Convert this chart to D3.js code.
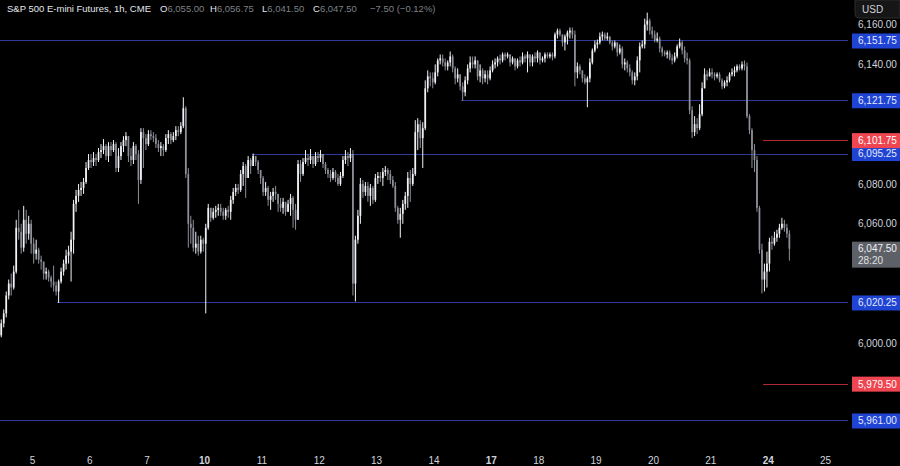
<!DOCTYPE html>
<html><head><meta charset="utf-8">
<script src="https://cdn.jsdelivr.net/npm/d3@7/dist/d3.min.js"></script>
<style>html,body{margin:0;padding:0;background:#000;}svg{display:block;}</style>
</head><body>
<svg id="c" width="900" height="466"></svg>
<script>
// ---- DATA (hourly candles, ES1! 1h, CME) ----
const opens=[
6004,6010,6015,6024,6030,6028,6036,6058,6056,6048,
6062,6055,6060,6050,6045,6047,6042,6041,6035,6036,
6033,6031,6029,6026,6031,6036,6040,6044,6046,6052,
6070,6074,6077,6078,6081,6088,6092,6091,6093,6092,
6096,6097,6099,6094,6099,6097,6100,6088,6094,6099,
6102,6104,6094,6092,6099,6095,6082,6106,6103,6100,
6105,6104,6103,6100,6098,6099,6097,6103,6105,6102,
6104,6107,6106,6109,6118,6085,6060,6058,6048,6050,
6046,6052,6050,6058,6068,6063,6066,6067,6068,6066,
6064,6067,6066,6072,6076,6078,6077,6085,6089,6083,
6092,6089,6094,6091,6087,6083,6076,6078,6072,6074,
6076,6075,6070,6068,6071,6066,6070,6073,6067,6062,
6090,6085,6091,6093,6092,6094,6090,6094,6093,6095,
6090,6087,6085,6083,6086,6083,6080,6084,6092,6094,
6093,6095,6030,6052,6064,6080,6076,6079,6074,6078,
6072,6083,6084,6083,6086,6087,6085,6082,6079,6068,
6062,6065,6070,6074,6083,6080,6085,6106,6110,6103,
6108,6128,6134,6133,6131,6136,6142,6143,6141,6139,
6141,6144,6138,6133,6135,6129,6126,6132,6138,6141,
6140,6142,6134,6137,6133,6135,6133,6137,6140,6141,
6143,6142,6145,6144,6145,6141,6143,6139,6142,6141,
6144,6143,6145,6141,6144,6143,6146,6142,6143,6145,
6144,6145,6144,6155,6157,6155,6151,6154,6156,6157,
6155,6136,6139,6137,6133,6131,6133,6141,6147,6150,
6151,6154,6155,6153,6154,6151,6149,6151,6146,6148,
6140,6141,6138,6136,6132,6134,6142,6149,6150,6160,
6162,6157,6155,6152,6153,6148,6146,6145,6146,6143,
6142,6144,6149,6151,6147,6143,6142,6117,6106,6110,
6108,6115,6128,6135,6134,6136,6135,6134,6135,6132,
6129,6131,6132,6135,6136,6137,6139,6138,6140,6139,
6114,6107,6097,6092,6068,6047,6032,6036,6040,6051,
6050,6053,6055,6058,6060,6058,6055];
const highs=[
6012,6017,6026,6032,6035,6039,6062,6067,6060,6069,
6067,6064,6062,6053,6052,6048,6044,6041,6038,6037,
6034,6039,6031,6032,6038,6042,6047,6049,6056,6072,
6077,6080,6081,6083,6091,6095,6095,6096,6095,6098,
6100,6102.5,6100,6101,6101,6102,6101,6098,6101,6104,
6106,6104,6098,6101,6100,6097,6108,6108,6105,6107,
6107,6106,6105,6102,6101,6100,6105,6107,6106,6106,
6109,6109,6111,6123.5,6119,6088,6064,6062,6056,6054,
6054,6053,6060,6070,6068,6068,6069,6070,6070,6068,
6068,6069,6074,6078,6080,6080,6087,6091,6090,6094,
6093,6095.25,6094,6092,6087,6084,6081,6079,6076,6078,
6079,6075,6073,6073,6071,6072,6075,6074,6070,6092,
6092,6093,6097,6095,6097.5,6094,6096,6096,6097,6095,
6091,6088,6087,6088,6087,6085,6086,6094,6097,6096,
6098,6097,6054,6067,6083,6082,6081,6081,6080,6079,
6085,6086,6086,6088,6089,6088,6087,6084,6081,6069,
6068,6072,6076,6086,6087,6088,6112,6113,6112,6111,
6132,6137,6136,6136,6140,6143,6145,6145,6143,6142,
6146.5,6145,6139,6138,6135,6131,6134,6140,6144,6144,
6144,6142,6140,6138,6137,6137,6139,6142,6143,6144,
6145,6146,6146,6146,6145,6144,6143,6143,6144,6146,
6145,6146.5,6145,6145,6146,6147,6146,6144,6146,6146,
6146,6146,6156,6158,6158,6155,6155,6157,6158.5,6158.5,
6157,6141,6140,6137,6135,6134,6143,6148,6152,6152.5,
6156,6156.5,6156,6156,6154,6152,6152,6151,6150,6149,
6143,6142,6140,6137,6136,6144,6151,6152,6163,6166,
6163,6159,6157,6156,6154,6149,6147,6147,6147,6145,
6146,6150,6153,6152,6149,6146,6143,6119,6114,6113,
6120,6131,6138,6137,6138,6138,6136,6136,6136,6133,
6132,6134,6136,6138,6139,6140,6140,6141.5,6142,6141,
6115,6108,6100,6094,6069,6050,6040,6046,6053,6054,
6056,6057,6060,6063,6062,6060,6056.75];
const lows=[
6003,6008,6013,6022,6024,6027,6035,6052,6045,6046,
6050,6052,6045,6040,6042,6040,6037,6032,6032,6031,
6028,6026,6024,6020.25,6030,6034,6037,6040,6031,6045,
6066,6071,6074,6075,6080,6087,6088,6089,6089,6091,
6093,6095,6092,6091,6094,6096,6086,6086,6092,6096,
6099,6091,6089,6090,6092,6070,6080,6088,6097,6099,
6102,6101,6098,6096,6094,6094,6096,6100,6100,6101,
6102,6104,6105,6108,6083,6048,6050,6046,6045,6044,
6045,6046,6015,6057,6061,6062,6063,6064,6064,6062,
6062,6063,6062,6070,6074,6075,6076,6079,6073,6083,
6085,6089,6089,6085,6080,6074,6074,6069,6067,6071,
6072,6066,6066,6065,6064,6066,6064,6058,6057,6062,
6081,6084,6090,6089,6090,6088,6089,6091,6091,6088,
6085,6083,6081,6082,6081,6079,6079,6083,6090,6089,
6091,6024,6021,6050,6060,6073,6074,6071,6069,6070,
6071,6080,6081,6079,6084,6082,6080,6078,6066,6060,
6053,6060,6067,6068,6071,6079,6084,6097,6098,6088,
6107,6126,6129,6128,6130,6134,6140,6139,6137,6137,
6139,6136,6130,6131,6127,6121.75,6124,6130,6136,6138,
6138,6132,6131,6130,6131,6130,6132,6136,6138,6139,
6140,6141,6142,6143,6139,6140,6137,6138,6139,6140,
6141,6136,6139,6139,6141,6141,6140,6141,6141,6143,
6143,6142,6143,6153,6154,6149,6147,6150,6153,6153,
6129,6133,6135,6131,6130,6118.5,6131,6140,6146,6148,
6150,6152,6152,6152,6150,6147,6148,6144,6145,6138,
6137,6136,6134,6130,6129.5,6132,6136,6148,6148,6157,
6155,6153,6151,6151,6146,6144,6144,6143,6142,6140,
6141,6143,6148,6145,6141,6140,6115,6103,6104,6105,
6107,6114,6128,6132,6134,6133,6132,6133,6131,6127.5,
6128,6129,6131,6134,6134,6136,6137,6137,6137,6113,
6105,6088,6086,6066,6045,6025,6026,6028,6036,6047,
6049,6051,6053,6057,6056,6053,6041.5];
const closes=[
6010,6015,6024,6030,6028,6036,6058,6056,6048,6062,
6055,6060,6050,6045,6047,6042,6041,6035,6036,6033,
6031,6029,6026,6031,6036,6040,6044,6046,6052,6070,
6074,6077,6078,6081,6088,6092,6091,6093,6092,6096,
6097,6099,6094,6099,6097,6100,6088,6094,6099,6102,
6104,6094,6092,6099,6095,6082,6106,6103,6100,6105,
6104,6103,6100,6098,6099,6097,6103,6105,6102,6104,
6107,6106,6109,6118,6085,6060,6058,6048,6050,6046,
6052,6050,6058,6068,6063,6066,6067,6068,6066,6064,
6067,6066,6072,6076,6078,6077,6085,6089,6083,6092,
6089,6094,6091,6087,6083,6076,6078,6072,6074,6076,
6075,6070,6068,6071,6066,6070,6073,6067,6062,6090,
6085,6091,6093,6092,6094,6090,6094,6093,6095,6090,
6087,6085,6083,6086,6083,6080,6084,6092,6094,6093,
6095,6030,6052,6064,6080,6076,6079,6074,6078,6072,
6083,6084,6083,6086,6087,6085,6082,6079,6068,6062,
6065,6070,6074,6083,6080,6085,6106,6110,6103,6108,
6128,6134,6133,6131,6136,6142,6143,6141,6139,6141,
6144,6138,6133,6135,6129,6126,6132,6138,6141,6140,
6142,6134,6137,6133,6135,6133,6137,6140,6141,6143,
6142,6145,6144,6145,6141,6143,6139,6142,6141,6144,
6143,6145,6141,6144,6143,6146,6142,6143,6145,6144,
6145,6144,6155,6157,6155,6151,6154,6156,6157,6155,
6136,6139,6137,6133,6131,6133,6141,6147,6150,6151,
6154,6155,6153,6154,6151,6149,6151,6146,6148,6140,
6141,6138,6136,6132,6134,6142,6149,6150,6160,6162,
6157,6155,6152,6153,6148,6146,6145,6146,6143,6142,
6144,6149,6151,6147,6143,6142,6117,6106,6110,6108,
6115,6128,6135,6134,6136,6135,6134,6135,6132,6129,
6131,6132,6135,6136,6137,6139,6138,6140,6139,6114,
6107,6097,6092,6068,6047,6032,6036,6040,6051,6050,
6053,6055,6058,6060,6058,6055,6047.5];

const dayLabels=["5","6","7","10","11","12","13","14","17","18","19","20","21","24","25"];
const dayStarts=[13,36,59,82,105,128,151,174,197,216,239,262,285,308,331];
const weekStartDays=["10","17","24"];
const priceTicks=[6160,6140,6080,6060,6000];
const blueLevels=[6151.75,6121.75,6095.25,6020.25,5961.00];
const blueLevelFrom=[0,185,101,23,0];
const redLevels=[6101.75,5979.50];
const redLevelFrom=[306,306];
const lastPrice=6047.50;
const countdown="28:20";
const titleText="S&P 500 E-mini Futures, 1h, CME";
const ohlcLetters=["O","H","L","C"];
const ohlcValues=["6,055.00","6,056.75","6,041.50","6,047.50"];
const changeText="\u22127.50 (\u22120.12%)";

// ---- CHART ----
const W=900,H=466,plotW=848,plotH=445,slots=340;
const FONT="'Liberation Sans', Arial, sans-serif";
const svg=d3.select('#c');
svg.append('rect').attr('width',W).attr('height',H).attr('fill','#000');

const x=d3.scaleBand().domain(d3.range(slots)).range([0,plotW]).padding(0);
const y=d3.scaleLinear().domain([5948.95,6172.33]).range([plotH,0]);
const bw=x.bandwidth();
const cx=i=>x(i)+bw/2;
// snap a horizontal 1px line to an even pixel row (keeps colour after image compression)
const rowY=p=>2*Math.round(y(p)/2)+0.5;

svg.append('defs').append('clipPath').attr('id','clip')
  .append('rect').attr('width',plotW).attr('height',plotH);

const plot=svg.append('g').attr('clip-path','url(#clip)');

// level lines
const BLUE_LINE='#2d3a9c',RED_LINE='#b02a32';
plot.selectAll('line.blue').data(blueLevels).join('line').attr('class','blue')
  .attr('x1',(d,i)=>x(blueLevelFrom[i])).attr('x2',plotW)
  .attr('y1',rowY).attr('y2',rowY)
  .attr('stroke',BLUE_LINE).attr('stroke-width',1).attr('shape-rendering','crispEdges');
plot.selectAll('line.red').data(redLevels).join('line').attr('class','red')
  .attr('x1',(d,i)=>x(redLevelFrom[i])).attr('x2',plotW)
  .attr('y1',rowY).attr('y2',rowY)
  .attr('stroke',RED_LINE).attr('stroke-width',1).attr('shape-rendering','crispEdges');

const data=closes.map((c,i)=>({i,o:opens[i],h:highs[i],l:lows[i],c}));
const UP='#f2f3f7',DOWN='#8d9099';
plot.selectAll('line.wick').data(data).join('line').attr('class','wick')
  .attr('x1',d=>cx(d.i)).attr('x2',d=>cx(d.i))
  .attr('y1',d=>y(Math.max(d.h,d.o,d.c))).attr('y2',d=>y(Math.min(d.l,d.o,d.c)))
  .attr('stroke',d=>d.c>=d.o?UP:DOWN).attr('stroke-width',1);
plot.selectAll('rect.body').data(data).join('rect').attr('class','body')
  .attr('x',d=>cx(d.i)-0.85).attr('width',1.7)
  .attr('y',d=>y(Math.max(d.o,d.c)))
  .attr('height',d=>Math.max(1,Math.abs(y(d.o)-y(d.c))))
  .attr('fill',d=>d.c>=d.o?UP:DOWN);

// right price axis
const fmt=d3.format(",.2f");
const yAxis=d3.axisRight(y).tickValues(priceTicks).tickFormat(fmt).tickSize(0).tickPadding(6);
const ya=svg.append('g').attr('transform',`translate(${plotW+4},0)`).call(yAxis);
ya.select('.domain').remove();
ya.selectAll('text').attr('fill','#d1d4dc').style('font-family',FONT).style('font-size','10px').attr('text-anchor','start');

// price labels
function priceLabel(p,bg,fg){
  const g=svg.append('g');
  g.append('rect').attr('x',plotW+4).attr('y',y(p)-7.5).attr('width',W-plotW-4).attr('height',15).attr('fill',bg);
  g.append('text').attr('x',plotW+10).attr('y',y(p)).attr('dy','0.35em').text(fmt(p))
    .attr('fill',fg).style('font-family',FONT).style('font-size','10px');
}
blueLevels.forEach(p=>priceLabel(p,'#1f44d3','#e6ebff'));
redLevels.forEach(p=>priceLabel(p,'#ee4550','#ffffff'));

// last price label
const lp=svg.append('g');
lp.append('rect').attr('x',plotW+4).attr('y',y(lastPrice)-7).attr('width',W-plotW-4).attr('height',26).attr('fill','#5e6068');
lp.append('text').attr('x',plotW+10).attr('y',y(lastPrice)).attr('dy','0.35em').text(fmt(lastPrice))
  .attr('fill','#f0f0f0').style('font-family',FONT).style('font-size','10px');
lp.append('text').attr('x',plotW+10).attr('y',y(lastPrice)+12).attr('dy','0.35em').text(countdown)
  .attr('fill','#e0e0e0').style('font-family',FONT).style('font-size','10px');

// USD box
svg.append('path').attr('d',`M${plotW+7},0 H${W} V18 H${plotW+11} Q${plotW+7},18 ${plotW+7},14 Z`)
  .attr('fill','#161616').attr('stroke','#2c2c2c');
svg.append('text').attr('x',plotW+14).attr('y',12.5).text('USD').attr('fill','#d1d4dc')
  .style('font-family',FONT).style('font-size','10px');

// bottom time axis
const xAxis=d3.axisBottom(x).tickValues(dayStarts).tickFormat(i=>dayLabels[dayStarts.indexOf(i)]).tickSize(0).tickPadding(0);
const xa=svg.append('g').attr('transform',`translate(${-bw/2},456)`).call(xAxis);
xa.select('.domain').remove();
xa.selectAll('text').attr('fill','#d1d4dc').attr('dy','0.75em').style('font-family',FONT).style('font-size','10px')
  .style('font-weight',(i)=>weekStartDays.includes(dayLabels[dayStarts.indexOf(i)])?'bold':'normal');

// title / legend
const t=svg.append('text').attr('y',12).style('font-family',FONT).style('font-size','9.5px');
t.append('tspan').attr('x',7).attr('fill','#e4e6ec').text(titleText);
const legendX=[160,210,262,313];
ohlcLetters.forEach((L,k)=>{
  t.append('tspan').attr('x',legendX[k]).attr('fill','#e4e6ec').text(L);
  t.append('tspan').attr('fill','#7d8088').text(ohlcValues[k]);
});
t.append('tspan').attr('x',370).attr('fill','#7d8088').text(changeText);
</script>
</body></html>
